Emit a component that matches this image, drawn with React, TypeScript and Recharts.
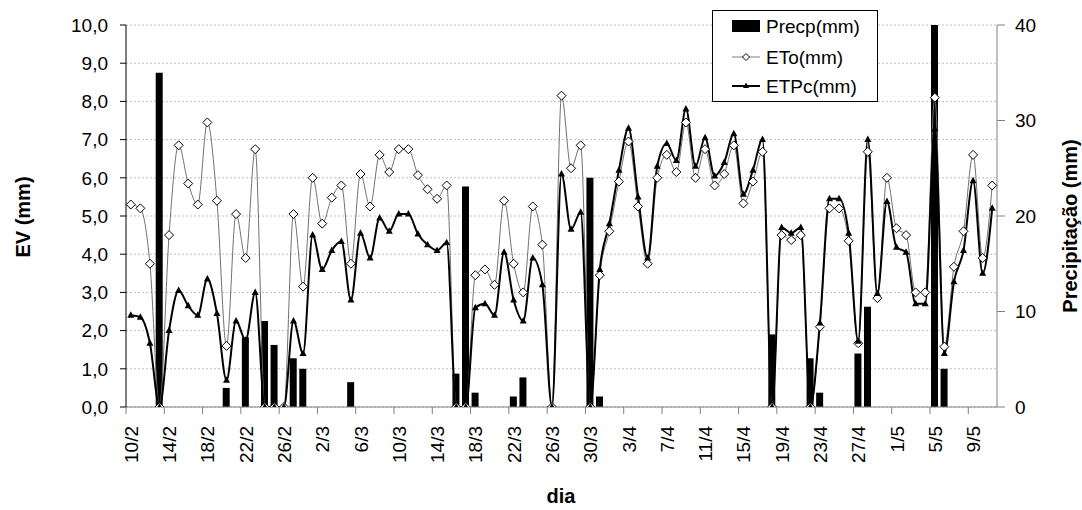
import { ComposedChart, Bar, Line, XAxis, YAxis, CartesianGrid, Legend } from "recharts"

const FONT = "'Liberation Sans', Arial, sans-serif"

const dates = [
  "10/2", "11/2", "12/2", "13/2", "14/2", "15/2", "16/2", "17/2", "18/2", "19/2",
  "20/2", "21/2", "22/2", "23/2", "24/2", "25/2", "26/2", "27/2", "28/2", "1/3",
  "2/3", "3/3", "4/3", "5/3", "6/3", "7/3", "8/3", "9/3", "10/3", "11/3",
  "12/3", "13/3", "14/3", "15/3", "16/3", "17/3", "18/3", "19/3", "20/3", "21/3",
  "22/3", "23/3", "24/3", "25/3", "26/3", "27/3", "28/3", "29/3", "30/3", "31/3",
  "1/4", "2/4", "3/4", "4/4", "5/4", "6/4", "7/4", "8/4", "9/4", "10/4",
  "11/4", "12/4", "13/4", "14/4", "15/4", "16/4", "17/4", "18/4", "19/4", "20/4",
  "21/4", "22/4", "23/4", "24/4", "25/4", "26/4", "27/4", "28/4", "29/4", "30/4",
  "1/5", "2/5", "3/5", "4/5", "5/5", "6/5", "7/5", "8/5", "9/5", "10/5",
  "11/5",
]

const eto = [
  5.3, 5.2, 3.75, 0, 4.5, 6.85, 5.85, 5.3, 7.45, 5.4,
  1.6, 5.05, 3.9, 6.75, 0, 0, 0, 5.05, 3.15, 6.0,
  4.8, 5.48, 5.8, 3.75, 6.1, 5.25, 6.6, 6.15, 6.75, 6.75,
  6.07, 5.7, 5.45, 5.8, 0, 0, 3.45, 3.6, 3.2, 5.4,
  3.75, 3.0, 5.25, 4.25, 0, 8.15, 6.25, 6.85, 0, 3.45,
  4.6, 5.9, 6.95, 5.25, 3.75, 6.0, 6.6, 6.15, 7.45, 6.0,
  6.75, 5.8, 6.1, 6.85, 5.33, 5.9, 6.68, 0, 4.5, 4.37,
  4.5, 0, 2.1, 5.2, 5.2, 4.35, 1.67, 6.68, 2.85, 6.0,
  4.68, 4.5, 3.0, 3.0, 8.1, 1.58, 3.67, 4.6, 6.6, 3.9,
  5.8,
]

const etpc = [
  2.4, 2.35, 1.67, 0, 2.0, 3.05, 2.65, 2.4, 3.35, 2.45,
  0.7, 2.25, 1.75, 3.0, 0, 0, 0, 2.25, 1.4, 4.5,
  3.6, 4.1, 4.33, 2.8, 4.55, 3.9, 4.95, 4.6, 5.05, 5.05,
  4.53, 4.25, 4.1, 4.3, 0, 0, 2.6, 2.7, 2.4, 4.05,
  2.8, 2.25, 3.9, 3.2, 0, 6.1, 4.65, 5.1, 0, 3.6,
  4.8, 6.2, 7.3, 5.5, 3.9, 6.3, 6.9, 6.45, 7.8, 6.3,
  7.05, 6.05, 6.4, 7.15, 5.57, 6.2, 7.0, 0, 4.7, 4.55,
  4.7, 0, 2.2, 5.45, 5.45, 4.55, 1.72, 7.0, 2.97, 5.38,
  4.18, 4.05, 2.7, 2.7, 7.28, 1.4, 3.28, 4.1, 5.92, 3.5,
  5.2,
]

const precp = [
  0, 0, 0, 35, 0, 0, 0, 0, 0, 0,
  2.0, 0, 7.3, 0, 9.0, 6.5, 0, 5.1, 4.0, 0,
  0, 0, 0, 2.6, 0, 0, 0, 0, 0, 0,
  0, 0, 0, 0, 3.5, 23.1, 1.5, 0, 0, 0,
  1.1, 3.1, 0, 0, 0, 0, 0, 0, 24, 1.1,
  0, 0, 0, 0, 0, 0, 0, 0, 0, 0,
  0, 0, 0, 0, 0, 0, 0, 7.6, 0, 0,
  0, 5.1, 1.5, 0, 0, 0, 5.6, 10.5, 0, 0,
  0, 0, 0, 0, 40, 4.0, 0, 0, 0, 0,
  0,
]

const evTicks = [0, 1, 2, 3, 4, 5, 6, 7, 8, 9, 10]
const rainTicks = [0, 10, 20, 30, 40]

const data = dates.map((d, i) => ({ date: d, eto: eto[i], etpc: etpc[i], precp: precp[i] }))

const W = 1082
const H = 510
const PLOT_LEFT = 126
const PLOT_RIGHT = 997
const PLOT_BOTTOM = 407
const BAND = (PLOT_RIGHT - PLOT_LEFT) / dates.length

const DateTick = (props: any) => {
  const { x, payload } = props
  const lx = x - BAND / 2
  return (
    <g>
      <line x1={lx} y1={PLOT_BOTTOM} x2={lx} y2={PLOT_BOTTOM + 7} stroke="#808080" />
      <text
        x={0}
        y={0}
        transform={`translate(${x + 7},${PLOT_BOTTOM + 19}) rotate(-90)`}
        textAnchor="end"
        fontSize={19}
        fontFamily={FONT}
        fill="#000"
      >
        {payload.value}
      </text>
    </g>
  )
}

const Diamond = (props: any) => {
  const { cx, cy, index } = props
  if (cx == null || cy == null) return <g key={`d-${index}`} />
  const r = 4.5
  return (
    <path
      key={`d-${index}`}
      d={`M${cx},${cy - r}L${cx + r},${cy}L${cx},${cy + r}L${cx - r},${cy}Z`}
      fill="#fff"
      stroke="#000"
      strokeWidth={1}
    />
  )
}

const Triangle = (props: any) => {
  const { cx, cy, index } = props
  if (cx == null || cy == null) return <g key={`t-${index}`} />
  return (
    <path
      key={`t-${index}`}
      d={`M${cx},${cy - 4}L${cx + 3.5},${cy + 2.5}L${cx - 3.5},${cy + 2.5}Z`}
      fill="#000"
    />
  )
}

const LegendBox = () => (
  <svg width={167} height={93}>
    <rect x={0.5} y={0.5} width={165} height={91} fill="#fff" stroke="#000" />
    <rect x={20} y={10} width={28} height={12} fill="#000" />
    <text x={54} y={23} fontSize={19} fontFamily={FONT}>Precp(mm)</text>
    <line x1={20} y1={47} x2={48} y2={47} stroke="#808080" />
    <path d="M34,43.5L37.5,47L34,50.5L30.5,47Z" fill="#fff" stroke="#000" />
    <text x={54} y={54} fontSize={19} fontFamily={FONT}>ETo(mm)</text>
    <line x1={20} y1={76} x2={48} y2={76} stroke="#000" strokeWidth={2} />
    <path d="M34,72.5L37,78L31,78Z" fill="#000" />
    <text x={54} y={83} fontSize={19} fontFamily={FONT}>ETPc(mm)</text>
  </svg>
)

export default function App() {
  return (
    <div style={{ position: "absolute", left: 0, top: 0, width: W, height: H, background: "#fff" }}>
      <ComposedChart width={W} height={H} data={data} margin={{ top: 25, right: 0, bottom: 0, left: 0 }}>
        <CartesianGrid yAxisId="left" vertical={false} stroke="#c0c0c0" strokeDasharray="2 2" />
        <XAxis
          dataKey="date"
          interval={3}
          tickLine={false}
          axisLine={{ stroke: "#808080" }}
          height={103}
          tick={DateTick}
          label={{
            content: () => (
              <text x={561} y={503} textAnchor="middle" fontSize={20} fontWeight="bold" fontFamily={FONT}>
                dia
              </text>
            ),
          }}
        />
        <YAxis
          yAxisId="left"
          width={126}
          domain={[0, 10]}
          ticks={evTicks}
          allowDataOverflow
          tickFormatter={(v: number) => v.toFixed(1).replace(".", ",")}
          axisLine={{ stroke: "#000" }}
          tickLine={{ stroke: "#000" }}
          tickSize={6}
          tickMargin={12}
          tick={{ fontSize: 19, fontFamily: FONT, fill: "#000" }}
          label={{
            content: () => (
              <text
                x={30}
                y={217}
                transform="rotate(-90 30 217)"
                textAnchor="middle"
                fontSize={20}
                fontWeight="bold"
                fontFamily={FONT}
              >
                EV (mm)
              </text>
            ),
          }}
        />
        <YAxis
          yAxisId="right"
          orientation="right"
          width={85}
          domain={[0, 40]}
          ticks={rainTicks}
          allowDataOverflow
          axisLine={{ stroke: "#808080" }}
          tickLine={{ stroke: "#808080" }}
          tickSize={8}
          tickMargin={10}
          tick={{ fontSize: 19, fontFamily: FONT, fill: "#000" }}
          label={{
            content: () => (
              <text
                x={1077}
                y={226}
                transform="rotate(-90 1077 226)"
                textAnchor="middle"
                fontSize={20}
                fontWeight="bold"
                fontFamily={FONT}
              >
                Precipitação (mm)
              </text>
            ),
          }}
        />
        <Legend
          layout="vertical"
          align="center"
          verticalAlign="middle"
          wrapperStyle={{ left: 712, top: 10, width: 167, height: 93 }}
          content={LegendBox}
        />
        <Bar yAxisId="right" dataKey="precp" name="Precp(mm)" fill="#000" barSize={7} isAnimationActive={false} />
        <Line
          yAxisId="left"
          type="monotone"
          dataKey="eto"
          name="ETo(mm)"
          stroke="#707070"
          strokeWidth={1}
          dot={Diamond}
          activeDot={false}
          isAnimationActive={false}
        />
        <Line
          yAxisId="left"
          type="monotone"
          dataKey="etpc"
          name="ETPc(mm)"
          stroke="#000"
          strokeWidth={2}
          dot={Triangle}
          activeDot={false}
          isAnimationActive={false}
        />
      </ComposedChart>
    </div>
  )
}
